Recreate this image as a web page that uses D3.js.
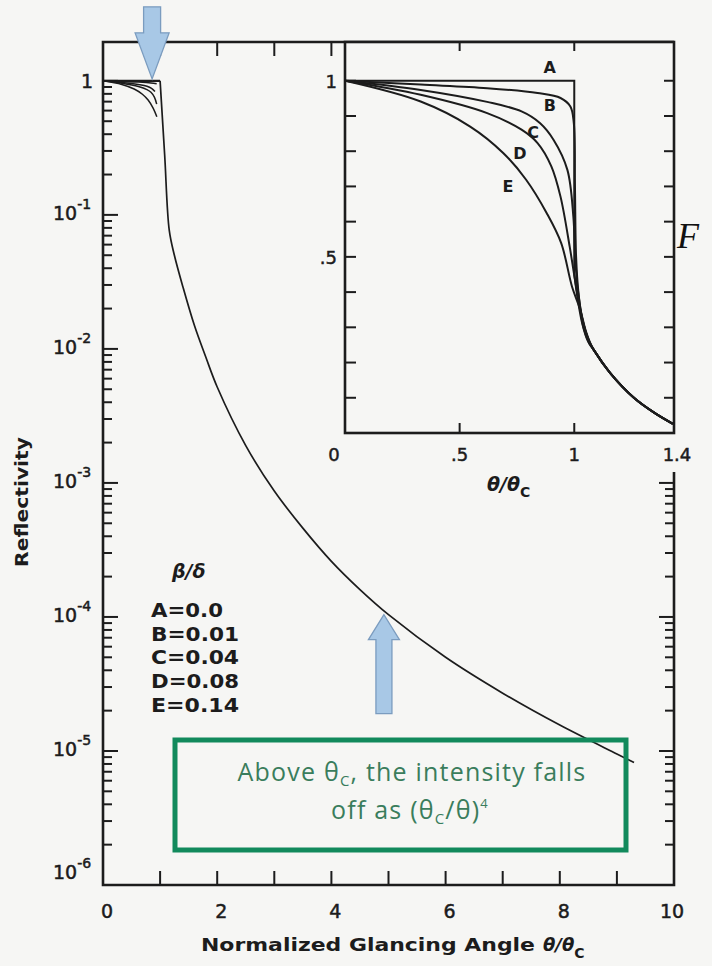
<!DOCTYPE html>
<html><head><meta charset="utf-8">
<script src="https://cdn.jsdelivr.net/npm/d3@7/dist/d3.min.js"></script>
<style>
html,body{margin:0;padding:0;background:#f6f6f4;}
svg{display:block;}
</style></head>
<body>
<svg id="chart" width="712" height="966"></svg>
<script>
// ---------- DATA ----------
// main plot: common Fresnel tail (θ/θc, reflectivity)
const mainTheta = [1.0, 1.08, 1.16, 1.25, 1.4, 1.6, 1.8, 2.0, 2.5, 3.0, 3.5, 4.0, 4.5, 5.0, 6.0, 7.0, 8.0, 9.0, 9.3];
const mainR     = [1, 0.28, 0.077, 0.05, 0.029, 0.015, 0.0087, 0.0052, 0.0019, 0.00087, 0.00046, 0.00026, 0.00016, 0.000104, 0.00005, 0.000027, 0.0000156, 0.0000095, 0.0000082];
// inset curves (linear scale)
const thetaA = [0, 1.0, 1.0, 1.015, 1.035, 1.06];
const reflA  = [1, 1, 0.45, 0.38, 0.31, 0.26];
const thetaB = [0, 0.33, 0.62, 0.84, 0.94, 0.983, 0.998, 1.003, 1.008, 1.018, 1.04, 1.065];
const reflB  = [1, 0.989, 0.979, 0.965, 0.951, 0.927, 0.88, 0.7, 0.5, 0.4, 0.3, 0.255];
const thetaC = [0, 0.33, 0.62, 0.77, 0.85, 0.91, 0.97, 0.996, 1.004, 1.015, 1.04, 1.065];
const reflC  = [1, 0.974, 0.94, 0.913, 0.88, 0.832, 0.747, 0.614, 0.5, 0.41, 0.31, 0.26];
const thetaD = [0, 0.33, 0.62, 0.77, 0.84, 0.9, 0.94, 0.98, 0.997, 1.015, 1.04, 1.065];
const reflD  = [1, 0.96, 0.908, 0.861, 0.823, 0.757, 0.671, 0.529, 0.46, 0.39, 0.31, 0.26];
const thetaE = [0, 0.33, 0.546, 0.69, 0.79, 0.88, 0.943, 0.99, 1.026, 1.05, 1.07];
const reflE  = [1, 0.941, 0.87, 0.795, 0.719, 0.624, 0.539, 0.416, 0.35, 0.29, 0.255];
const tailTheta = [1.085, 1.157, 1.26, 1.35, 1.43];
const tailR     = [0.236, 0.17, 0.10, 0.057, 0.026];
const curveNames = ["A", "B", "C", "D", "E"];
const betaOverDelta = ["0.0", "0.01", "0.04", "0.08", "0.14"];
// ticks
const xTickLabels = [0, 2, 4, 6, 8, 10];
const xMinorTicks = [1, 2, 3, 4, 5, 6, 7, 8, 9];
const xTopTicks = [1, 2, 3, 4];
const yExponents = [0, -1, -2, -3, -4, -5, -6];
const insetXTicks = [0.5, 1];
const insetXLabels = [[0, "0"], [0.5, ".5"], [1, "1"], [1.4, "1.4"]];
const insetYTicks = [0.1, 0.2, 0.3, 0.4, 0.5, 0.6, 0.7, 0.8, 0.9, 1.0];
const insetYLabels = [[1, "1"], [0.5, ".5"]];

// ---------- SETUP ----------
const svg = d3.select("#chart");
const INK = "#1c1c1c";
const FONT = "DejaVu Sans";
const zip = (a, b) => a.map((v, i) => [v, b[i]]);

const xM = d3.scaleLinear().domain([0, 10]).range([103, 674]);
const yM = d3.scaleLog().domain([1e-6, Math.pow(10, 0.29)]).range([885, 42]);
const xI = d3.scaleLinear().domain([0, 1.435]).range([345, 674]);
const yI = d3.scaleLinear().domain([0, 1.11]).range([433, 42]);

const curvesIn = {
  A: zip(thetaA, reflA), B: zip(thetaB, reflB), C: zip(thetaC, reflC),
  D: zip(thetaD, reflD), E: zip(thetaE, reflE)
};
const tail = zip(tailTheta, tailR);
const cr = d3.curveCatmullRom.alpha(0.5);

// ---------- MAIN PLOT ----------
const gM = svg.append("g");
// frame (right edge has a gap under the inset's "1.4" label)
gM.append("path")
  .attr("d", `M${xM(10)},${yM.range()[1]}H${xM(0)}V${yM.range()[0]}H${xM(10)}V472`)
  .attr("fill", "none").attr("stroke", INK).attr("stroke-width", 2.6);

// bottom ticks
gM.selectAll(".xt").data(xMinorTicks).join("line")
  .attr("x1", d => xM(d)).attr("x2", d => xM(d))
  .attr("y1", yM.range()[0]).attr("y2", yM.range()[0] - 14)
  .attr("stroke", INK).attr("stroke-width", 2);
// top ticks
gM.selectAll(".xtt").data(xTopTicks).join("line")
  .attr("x1", d => xM(d)).attr("x2", d => xM(d))
  .attr("y1", yM.range()[1]).attr("y2", yM.range()[1] + 14)
  .attr("stroke", INK).attr("stroke-width", 2);
// x labels
gM.selectAll(".xl").data(xTickLabels).join("text")
  .attr("x", d => xM(d) + (d === 10 ? -2 : 4)).attr("y", 918)
  .attr("text-anchor", "middle").attr("font-family", FONT).attr("font-size", 19)
  .attr("stroke", INK).attr("stroke-width", 0.5)
  .attr("fill", INK).text(d => d);

// y log ticks
const yTicks = yM.ticks().filter(v => v <= 1.0001);
const isMajor = v => Math.abs(Math.log10(v) - Math.round(Math.log10(v))) < 1e-6;
gM.selectAll(".yt").data(yTicks).join("line")
  .attr("x1", xM(0)).attr("x2", v => xM(0) + (isMajor(v) ? 15 : 9))
  .attr("y1", v => yM(v)).attr("y2", v => yM(v))
  .attr("stroke", INK).attr("stroke-width", 2);
// right-side log ticks (below inset)
gM.selectAll(".ytr").data(yTicks.filter(v => yM(v) > 470)).join("line")
  .attr("x1", xM(10)).attr("x2", v => xM(10) - (isMajor(v) ? 15 : 9))
  .attr("y1", v => yM(v)).attr("y2", v => yM(v))
  .attr("stroke", INK).attr("stroke-width", 2);

// y labels
yExponents.forEach(e => {
  const yy = Math.min(yM(Math.pow(10, e)), 874);
  if (e === 0) {
    gM.append("text").attr("x", 87).attr("y", yy + 7).attr("text-anchor", "middle")
      .attr("font-family", FONT).attr("font-size", 19).attr("fill", INK)
      .attr("stroke", INK).attr("stroke-width", 0.5).text("1");
  } else {
    const t = gM.append("text").attr("x", 53).attr("y", yy + 5)
      .attr("font-family", FONT).attr("font-size", 19).attr("fill", INK)
      .attr("stroke", INK).attr("stroke-width", 0.5);
    t.append("tspan").text("10");
    t.append("tspan").attr("dy", -11).attr("font-size", 14).text("-" + (-e));
  }
});

// axis titles
gM.append("text")
  .attr("transform", `translate(28,${(437 + 567) / 2}) rotate(-90)`)
  .attr("text-anchor", "middle").attr("font-family", FONT).attr("font-size", 17)
  .attr("font-weight", "bold")
  .attr("textLength", 130).attr("lengthAdjust", "spacingAndGlyphs")
  .attr("fill", INK).text("Reflectivity");

gM.append("text").attr("x", 201).attr("y", 951)
  .attr("font-family", FONT).attr("font-size", 17).attr("font-weight", "bold")
  .attr("textLength", 334).attr("lengthAdjust", "spacingAndGlyphs")
  .attr("fill", INK).text("Normalized Glancing Angle");
const xt2 = gM.append("text").attr("x", 543).attr("y", 951)
  .attr("font-family", FONT).attr("font-size", 18).attr("font-weight", "bold").attr("fill", INK);
xt2.append("tspan").attr("font-style", "italic").text("θ/θ");
xt2.append("tspan").attr("dy", 7).attr("font-size", 14).text("C");

// main curves
const lineM = d3.line().x(d => xM(d[0])).y(d => yM(d[1]));
// flat part of A
gM.append("path").datum([[0, 1], [1, 1]])
  .attr("d", lineM.curve(d3.curveLinear)).attr("fill", "none")
  .attr("stroke", INK).attr("stroke-width", 2.4);
// B..E near the top
["B", "C", "D", "E"].forEach(k => {
  const pts = curvesIn[k].filter(p => p[0] <= 0.96);
  gM.append("path").datum(pts)
    .attr("d", d3.line().x(d => xM(d[0])).y(d => yM(d[1])).curve(cr))
    .attr("fill", "none").attr("stroke", INK).attr("stroke-width", 1.5);
});
// common tail
gM.append("path").datum(zip(mainTheta, mainR))
  .attr("d", d3.line().x(d => xM(d[0])).y(d => yM(d[1])).curve(cr))
  .attr("fill", "none").attr("stroke", INK).attr("stroke-width", 1.7);

// legend
const lg = gM.append("g").attr("font-family", FONT).attr("fill", INK);
lg.append("text").attr("x", 172).attr("y", 578).attr("font-size", 19)
  .attr("font-style", "italic").attr("font-weight", "bold").text("β/δ");
curveNames.forEach((n, i) => {
  lg.append("text").attr("x", 151).attr("y", 617 + i * 23.7)
    .attr("font-size", 20).attr("font-weight", "bold")
    .attr("textLength", i === 0 ? 72 : 88).attr("lengthAdjust", "spacingAndGlyphs")
    .text(n + "=" + betaOverDelta[i]);
});

// ---------- INSET ----------
const gI = svg.append("g");
gI.append("rect").attr("x", xI(0)).attr("y", yI.range()[1])
  .attr("width", xI(1.435) - xI(0)).attr("height", yI(0) - yI.range()[1])
  .attr("fill", "#f6f6f4").attr("stroke", INK).attr("stroke-width", 2.6);
// inset y ticks (left and right)
gI.selectAll(".iyl").data(insetYTicks).join("line")
  .attr("x1", xI(0)).attr("x2", xI(0) + 11).attr("y1", d => yI(d)).attr("y2", d => yI(d))
  .attr("stroke", INK).attr("stroke-width", 2);
gI.selectAll(".iyr").data(insetYTicks).join("line")
  .attr("x1", xI(1.435)).attr("x2", xI(1.435) - 10).attr("y1", d => yI(d)).attr("y2", d => yI(d))
  .attr("stroke", INK).attr("stroke-width", 2);
// inset x ticks top & bottom
gI.selectAll(".ixb").data(insetXTicks).join("line")
  .attr("x1", d => xI(d)).attr("x2", d => xI(d)).attr("y1", yI(0)).attr("y2", yI(0) - 10)
  .attr("stroke", INK).attr("stroke-width", 2);
gI.selectAll(".ixt").data(insetXTicks).join("line")
  .attr("x1", d => xI(d)).attr("x2", d => xI(d)).attr("y1", yI.range()[1]).attr("y2", yI.range()[1] + 9)
  .attr("stroke", INK).attr("stroke-width", 2);
// inset labels
gI.selectAll(".ixl").data(insetXLabels).join("text")
  .attr("x", d => d[0] === 0 ? 334 : xI(d[0]) + (d[0] === 1.4 ? 11 : 0)).attr("y", 461)
  .attr("text-anchor", "middle").attr("font-family", FONT).attr("font-size", 18)
  .attr("stroke", INK).attr("stroke-width", 0.5)
  .attr("fill", INK).text(d => d[1]);
gI.selectAll(".iyl2").data(insetYLabels).join("text")
  .attr("x", 337).attr("y", d => yI(d[0]) + 7)
  .attr("text-anchor", "end").attr("font-family", FONT).attr("font-size", 18)
  .attr("stroke", INK).attr("stroke-width", 0.5)
  .attr("fill", INK).text(d => d[1]);
const it = gI.append("text").attr("x", 487).attr("y", 491)
  .attr("font-family", FONT).attr("font-size", 19).attr("font-weight", "bold").attr("fill", INK);
it.append("tspan").attr("font-style", "italic").text("θ/θ");
it.append("tspan").attr("dy", 6).attr("font-size", 14).text("C");

// inset curves
const lineI = d3.line().x(d => xI(d[0])).y(d => yI(d[1]));
const clipId = "insetClip";
svg.append("clipPath").attr("id", clipId).append("rect")
  .attr("x", xI(0)).attr("y", yI.range()[1]).attr("width", xI(1.435) - xI(0)).attr("height", yI(0) - yI.range()[1]);
const gc = gI.append("g").attr("clip-path", `url(#${clipId})`);
// A: flat + vertical, then smooth tail
gc.append("path").datum(curvesIn.A.slice(0, 3))
  .attr("d", lineI.curve(d3.curveLinear)).attr("fill", "none").attr("stroke", INK).attr("stroke-width", 2);
gc.append("path").datum(curvesIn.A.slice(2).concat(tail))
  .attr("d", d3.line().x(d => xI(d[0])).y(d => yI(d[1])).curve(cr))
  .attr("fill", "none").attr("stroke", INK).attr("stroke-width", 2);
["B", "C", "D", "E"].forEach(k => {
  gc.append("path").datum(curvesIn[k].concat(tail))
    .attr("d", d3.line().x(d => xI(d[0])).y(d => yI(d[1])).curve(cr))
    .attr("fill", "none").attr("stroke", INK).attr("stroke-width", 2);
});
// curve letters
const letterPos = { A: [0.893, 1.04], B: [0.893, 0.93], C: [0.82, 0.855], D: [0.763, 0.795], E: [0.711, 0.70] };
curveNames.forEach(n => {
  gI.append("text").attr("x", xI(letterPos[n][0])).attr("y", yI(letterPos[n][1]) + 6)
    .attr("text-anchor", "middle").attr("font-family", FONT).attr("font-size", 16)
    .attr("font-weight", "bold").attr("fill", INK).text(n);
});

// ---------- ANNOTATIONS ----------
function arrow(tipX, tipY, dir, shaftLen, headLen, shaftW, headW) {
  const s = dir;
  const p = [
    [tipX, tipY],
    [tipX - headW / 2, tipY - s * headLen],
    [tipX - shaftW / 2, tipY - s * headLen],
    [tipX - shaftW / 2, tipY - s * (headLen + shaftLen)],
    [tipX + shaftW / 2, tipY - s * (headLen + shaftLen)],
    [tipX + shaftW / 2, tipY - s * headLen],
    [tipX + headW / 2, tipY - s * headLen]
  ];
  svg.append("polygon").attr("points", p.map(q => q.join(",")).join(" "))
    .attr("fill", "#a8c8e6").attr("stroke", "#7b9cbf").attr("stroke-width", 1.3);
}
arrow(xM(0.86), yM(1) - 2, 1, 26, 46, 17, 34);
arrow(xM(4.92), yM(0.000104), -1, 74, 25, 16, 31);

// green box
svg.append("rect").attr("x", 175).attr("y", 740).attr("width", 451).attr("height", 110)
  .attr("fill", "none").attr("stroke", "#128a5c").attr("stroke-width", 5);
const gt = svg.append("g").attr("font-family", "Open Sans").attr("font-size", 25)
  .attr("fill", "#3a7d5c").attr("text-anchor", "middle").attr("letter-spacing", 1.2);
const t1 = gt.append("text").attr("x", 412).attr("y", 781);
t1.append("tspan").text("Above θ");
t1.append("tspan").attr("dy", 5).attr("font-size", 15).text("C");
t1.append("tspan").attr("dy", -5).text(", the intensity falls");
const t2 = gt.append("text").attr("x", 410).attr("y", 819);
t2.append("tspan").text("off as (θ");
t2.append("tspan").attr("dy", 5).attr("font-size", 15).text("C");
t2.append("tspan").attr("dy", -5).text("/θ)");
t2.append("tspan").attr("dy", -11).attr("font-size", 13).text("4");

// partial slide letter at the right edge
svg.append("text").attr("x", 677).attr("y", 248).attr("font-family", "Liberation Serif")
  .attr("font-style", "italic").attr("font-size", 36).attr("fill", "#111").text("F");
</script>
</body></html>
